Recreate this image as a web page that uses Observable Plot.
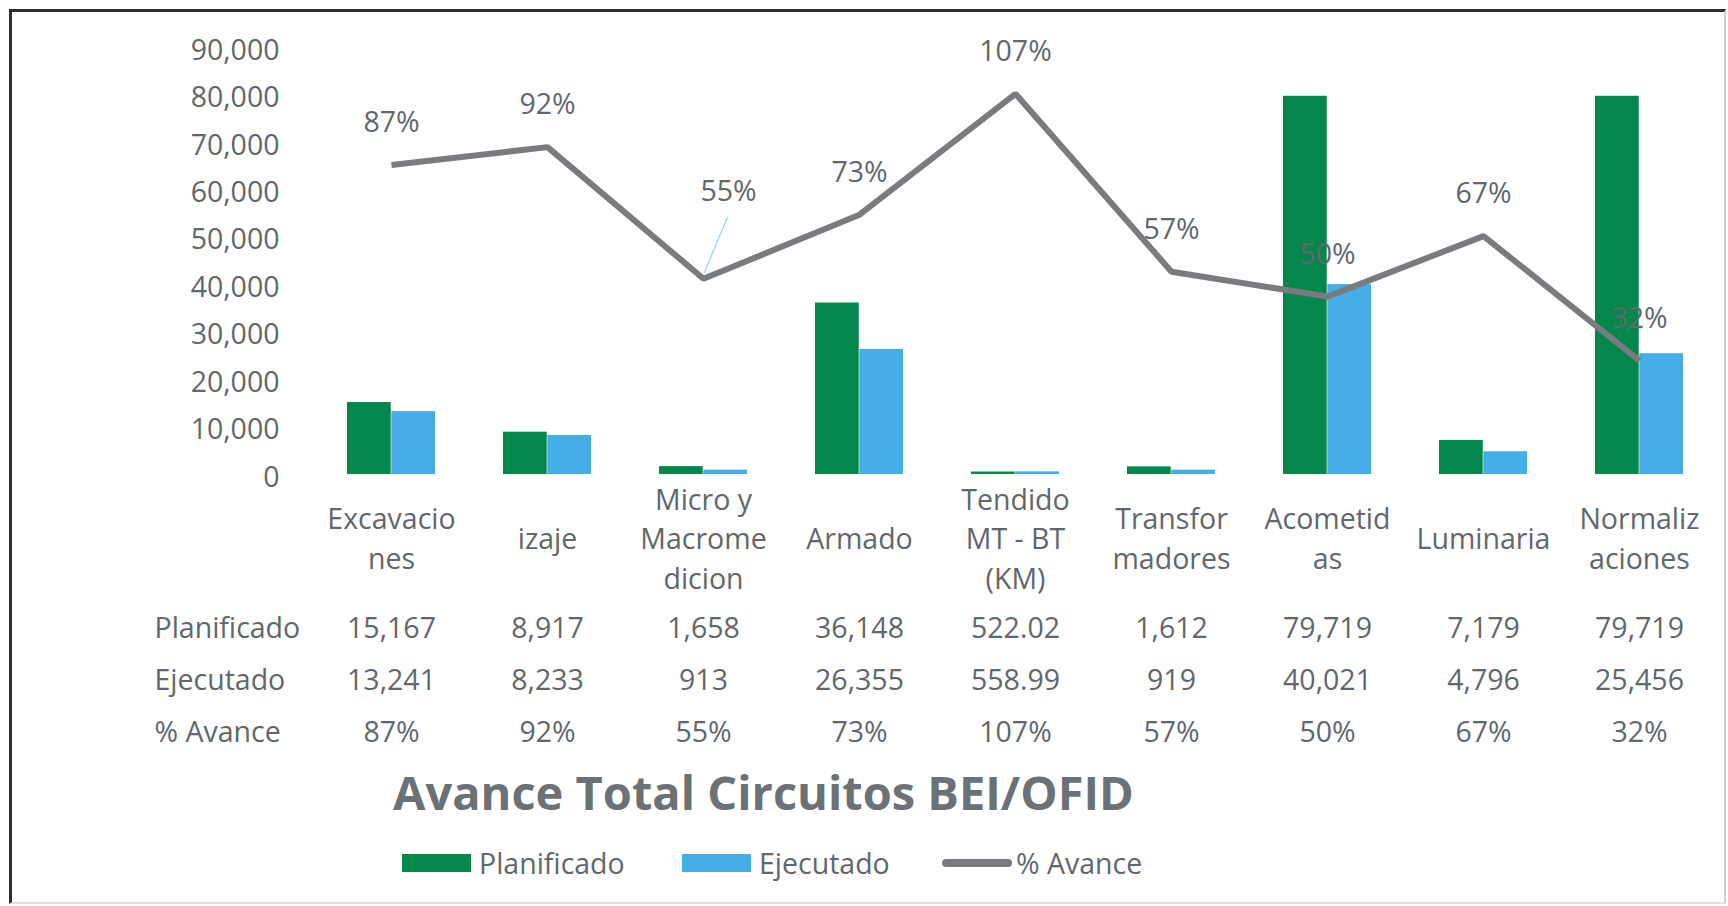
<!DOCTYPE html>
<html>
<head>
<meta charset="utf-8">
<script src="https://cdn.jsdelivr.net/npm/d3@7"></script>
<script src="https://cdn.jsdelivr.net/npm/@observablehq/plot@0.6"></script>
<style>
  html, body { margin: 0; padding: 0; background: #ffffff; }
  body { font-family: "Open Sans", sans-serif; }
  #wrap { position: relative; width: 1728px; height: 906px; overflow: hidden; background: #fff; }
  #frame { position: absolute; left: 9px; top: 9px; width: 1717px; height: 895px; box-sizing: border-box;
           border-left: 3px solid #2e2e2e; border-top: 3px solid #2e2e2e;
           border-right: 2px solid #cfcfcf; border-bottom: 2px solid #e2e2e2; }
  #chart { position: absolute; left: 0; top: 0; }
  #title { position: absolute; left: 393px; top: 763px; font-size: 47px; font-weight: 700; color: #6c7176;
           white-space: nowrap; line-height: 58px; }
  .leg { position: absolute; top: 846px; height: 34px; display: flex; align-items: center;
         font-size: 28.5px; color: #62676b; white-space: nowrap; }
  .sw { display: inline-block; width: 69px; height: 18px; margin-right: 8px; }
  .ln { display: inline-block; width: 70px; height: 8px; border-radius: 4px; margin-right: 4px; }
</style>
</head>
<body>
<div id="wrap">
  <div id="chart"></div>
  <div id="frame"></div>
  <div id="title"></div>
  <div id="legend"></div>
</div>
<script>
// ---- data ----
const categories = ["Excavaciones", "izaje", "Micro y Macromedicion", "Armado", "Tendido MT - BT (KM)",
                    "Transformadores", "Acometidas", "Luminaria", "Normalizaciones"];
const categoryLabels = ["Excavacio\nnes", "izaje", "Micro y\nMacrome\ndicion", "Armado", "Tendido\nMT - BT\n(KM)",
                        "Transfor\nmadores", "Acometid\nas", "Luminaria", "Normaliz\naciones"];
const planificado = [15167, 8917, 1658, 36148, 522.02, 1612, 79719, 7179, 79719];
const ejecutado   = [13241, 8233, 913, 26355, 558.99, 919, 40021, 4796, 25456];
const avance      = [87, 92, 55, 73, 107, 57, 50, 67, 32];
const yTicks = [0, 10000, 20000, 30000, 40000, 50000, 60000, 70000, 80000, 90000];
const seriesNames = ["Planificado", "Ejecutado", "% Avance"];
const titleText = "Avance Total Circuitos BEI/OFID";
// secondary (hidden) axis for % Avance: 0–120% drawn on the same height as 0–90,000
const pctMax = 120;
const yMax = 90000;

// ---- styles ----
const GREEN = "#04874c";
const BLUE = "#45aee8";
const GRAY = "#7a7b7e";
const TEXT = "#62676b";
const FS = 28.5;

const rows = categories.map((c, i) => ({
  cat: c, label: categoryLabels[i], plan: planificado[i], ejec: ejecutado[i], pct: avance[i]
}));
const pctY = d => d.pct * yMax / pctMax;
const fmtNum = v => Number.isInteger(v) ? d3.format(",")(v) : d3.format(",.2f")(v);

const W = 1728, H = 760, mL = 309.6, mR = 7.6, mT = 47, mB = 286;
const padInner = 0.435;
const step = (W - mL - mR) / categories.length;
const bw = step * (1 - padInner);

const tableRow = (accessor, dy) =>
  Plot.text(rows, { x: "cat", text: accessor, frameAnchor: "bottom", lineAnchor: "middle", dy, fill: TEXT, fontSize: FS });
const rowName = (name, dy) =>
  Plot.text([name], { text: d => d, frameAnchor: "bottom-left", lineAnchor: "middle", textAnchor: "start", dx: -155.6, dy, fill: TEXT, fontSize: FS });

const plot = Plot.plot({
  width: W, height: H,
  marginTop: mT, marginBottom: mB, marginLeft: mL, marginRight: mR,
  style: { fontFamily: '"Open Sans", sans-serif', fontSize: FS + "px", color: TEXT, background: "transparent", overflow: "visible" },
  x: { type: "band", domain: categories, paddingInner: padInner, paddingOuter: padInner / 2, axis: null },
  y: { domain: [0, yMax], axis: null },
  marks: [
    Plot.axisY({ ticks: yTicks, tickSize: 0, tickPadding: 30.6, tickFormat: d3.format(","), label: null, dy: 3, fill: TEXT }),
    Plot.barY(rows, { x: "cat", y: "plan", fill: GREEN, insetRight: bw / 2 }),
    Plot.barY(rows, { x: "cat", y: "ejec", fill: BLUE, insetLeft: bw / 2 }),
    Plot.line(rows, { x: "cat", y: pctY, stroke: GRAY, strokeWidth: 6, strokeLinejoin: "miter", strokeLinecap: "butt" }),
    Plot.text(rows.filter(d => d.cat !== "Micro y Macromedicion"),
      { x: "cat", y: pctY, text: d => d.pct + "%", dy: -42, fill: TEXT, fontSize: FS }),
    Plot.text(rows.filter(d => d.cat === "Micro y Macromedicion"),
      { x: "cat", y: pctY, text: d => d.pct + "%", dx: 25, dy: -87, fill: TEXT, fontSize: FS }),
    // category labels
    Plot.text(rows, { x: "cat", text: "label", frameAnchor: "bottom", dy: 62, lineAnchor: "middle", lineHeight: 1.39, fill: TEXT, fontSize: FS }),
    // data table
    tableRow(d => fmtNum(d.plan), 154),
    tableRow(d => fmtNum(d.ejec), 206),
    tableRow(d => d.pct + "%", 258),
    rowName(seriesNames[0], 154),
    rowName(seriesNames[1], 206),
    rowName(seriesNames[2], 258)
  ]
});
document.getElementById("chart").appendChild(plot);

// leader line for the offset 55% label, positioned through the plot's own scales
(function () {
  const sx = plot.scale("x"), sy = plot.scale("y");
  const d = rows.find(r => r.cat === "Micro y Macromedicion");
  const px = sx.apply(d.cat) + (sx.bandwidth || bw) / 2;
  const py = sy.apply(pctY(d));
  d3.select(plot).append("line")
    .attr("x1", px + 24.5).attr("y1", py - 61)
    .attr("x2", px + 1).attr("y2", py - 5)
    .attr("stroke", "#9fd0ef").attr("stroke-width", 1.2);
})();

document.getElementById("title").textContent = titleText;

const legendItems = [
  { name: seriesNames[0], kind: "sw", color: GREEN, left: 402 },
  { name: seriesNames[1], kind: "sw", color: BLUE, left: 682 },
  { name: seriesNames[2], kind: "ln", color: GRAY, left: 942 }
];
const leg = document.getElementById("legend");
legendItems.forEach(it => {
  const div = document.createElement("div");
  div.className = "leg";
  div.style.left = it.left + "px";
  const s = document.createElement("span");
  s.className = it.kind;
  s.style.background = it.color;
  div.appendChild(s);
  div.appendChild(document.createTextNode(it.name));
  leg.appendChild(div);
});
</script>
</body>
</html>
